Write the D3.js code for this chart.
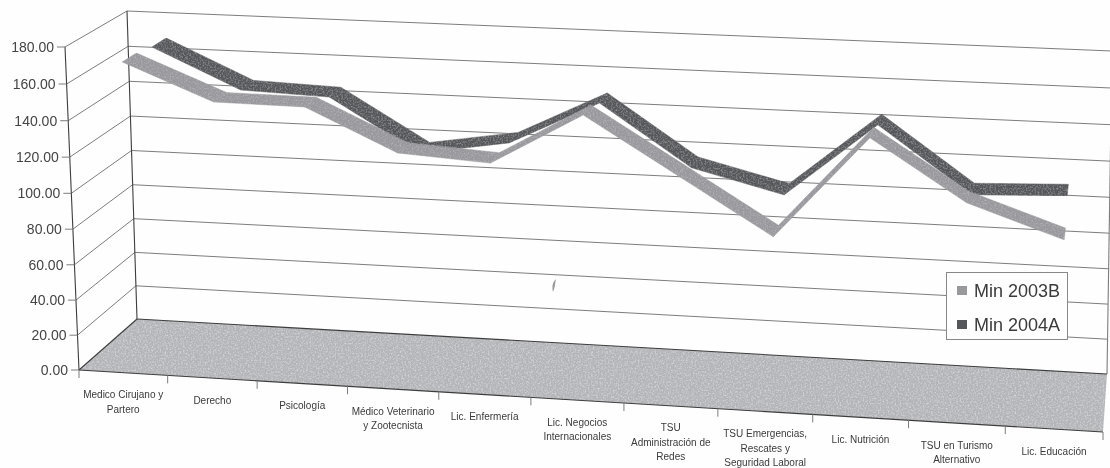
<!DOCTYPE html>
<html><head><meta charset="utf-8">
<script src="https://cdn.jsdelivr.net/npm/d3@7"></script>
<style>html,body{margin:0;padding:0;background:#fff}svg{display:block}text{font-family:"Liberation Sans",Arial,sans-serif}</style>
</head><body><div id="c"></div>
<script>
const categories = [
  ["Medico Cirujano y","Partero"],["Derecho"],["Psicología"],["Médico Veterinario","y Zootecnista"],
  ["Lic. Enfermería"],["Lic. Negocios","Internacionales"],["TSU","Administración de","Redes"],
  ["TSU Emergencias,","Rescates y","Seguridad Laboral"],["Lic. Nutrición"],["TSU en Turismo","Alternativo"],["Lic. Educación"]
];
const min2003B = [169.2,149.6,149.2,126.5,123.4,151.8,121.5,91,146.7,114.6,97.4];
const min2004A = [167.2,145.3,143.6,114.6,122.6,147,113.5,101,141.9,106.1,108];
const valueTicks = [0,20,40,60,80,100,120,140,160,180];

const W=1110,H=468;
// Corners of the 3D box, as the picture shows them: [category end][value end][depth end]
const box={
  x:{l:{b:{f:79,k:137},t:{f:65,k:127}},r:{b:{f:1103,k:1107},t:{f:1110,k:1112}}},
  y:{l:{b:{f:370,k:319},t:{f:47,k:11}},r:{b:{f:432,k:374},t:{f:93,k:51}}}
};
const warp=(t,r)=>t/(t+r*(1-t));
const uScale=d3.scaleLinear().domain([0,1]).range([0,1]);
const vScale=d3.scaleLinear().domain([0,180]).range([0,1]);
const nodeScale=d3.scalePoint().domain(d3.range(categories.length)).range([0.0455,0.96]);
function project(t,value,w){
  const u=warp(uScale(t),1.055), v=warp(vScale(value),1.035);
  const tri=b=>{
    const side=s=>{
      const bot=d3.interpolateNumber(s.b.f,s.b.k)(w), top=d3.interpolateNumber(s.t.f,s.t.k)(w);
      return bot+(top-bot)*v;
    };
    return side(b.l)+(side(b.r)-side(b.l))*u;
  };
  return [tri(box.x),tri(box.y)];
}
const line=d3.line();
const svg=d3.select("#c").append("svg").attr("width",W).attr("height",H).attr("viewBox",[0,0,W,H]);
const defs=svg.append("defs");
function makeGrain(id,slope,offset){
  const grain=defs.append("filter").attr("id",id).attr("x",0).attr("y",0).attr("width",1).attr("height",1);
  grain.append("feTurbulence").attr("type","fractalNoise").attr("baseFrequency",0.6).attr("numOctaves",2).attr("seed",4).attr("result","n");
  grain.append("feColorMatrix").attr("in","n").attr("type","matrix").attr("values",`0 0 0 0 1  0 0 0 0 1  0 0 0 0 1  ${slope} 0 0 0 ${offset}`).attr("result","s");
  grain.append("feComposite").attr("in","s").attr("in2","SourceAlpha").attr("operator","in").attr("result","c");
  const gm=grain.append("feMerge");gm.append("feMergeNode").attr("in","SourceGraphic");gm.append("feMergeNode").attr("in","c");
}
makeGrain("grain",0.9,-0.38);
makeGrain("grainSoft",0.5,-0.22);
defs.append("filter").attr("id","scan").attr("x",0).attr("y",0).attr("width",1).attr("height",1)
  .append("feGaussianBlur").attr("stdDeviation",0.65);

const root=svg.append("g").attr("filter","url(#scan)");
root.append("rect").attr("width",W).attr("height",H).attr("fill","#fefefe");
const gridCol="#7d7d7d", axisCol="#3d3d3d";

// floor
root.append("path").attr("d",line([project(0,0,0),project(1,0,0),project(1,0,1),project(0,0,1)])+"Z")
  .attr("fill","#b3b4b8").attr("filter","url(#grain)");
// gridlines on back wall + left wall
const grid=root.append("g").attr("fill","none").attr("stroke",gridCol).attr("stroke-width",1);
valueTicks.filter(d=>d>0).forEach(v=>{
  grid.append("path").attr("d",line([project(0,v,1),project(1,v,1)]));
  grid.append("path").attr("d",line([project(0,v,0),project(0,v,1)]));
});
// walls' edges and axis
const edges=root.append("g").attr("fill","none").attr("stroke",axisCol).attr("stroke-width",1.1);
edges.append("path").attr("d",line([project(0,0,0),project(0,180,0)]));
edges.append("path").attr("d",line([project(0,0,1),project(0,180,1)]));
edges.append("path").attr("d",line([project(1,0,1),project(1,180,1)])).attr("stroke",gridCol);
edges.append("path").attr("d",line([project(0,0,1),project(1,0,1)]));
edges.append("path").attr("d",line([project(0,0,0),project(1,0,0)]));
edges.append("path").attr("d",line([project(0,0,0),project(0,0,1)]));

// category ticks
const catTicks=d3.range(categories.length+1);
root.append("g").selectAll("path").data(catTicks).join("path")
  .attr("d",i=>{const p=project(i/categories.length,0,0);return line([p,[p[0],p[1]+8]]);})
  .attr("stroke",gridCol).attr("fill","none");

// value ticks + labels
const fmt=d3.format(".2f");
const vt=root.append("g").selectAll("g").data(valueTicks).join("g")
  .attr("transform",v=>`translate(${project(0,v,0)})`);
vt.append("line").attr("x1",-8).attr("x2",0).attr("stroke",gridCol);
vt.append("text").attr("x",-11).attr("dy","0.36em").attr("text-anchor","end")
  .attr("font-size",14).attr("fill","#444").text(fmt);

// ribbons
const ribbonDepth=0.24;
function ribbon(values,w0,fill){
  const g=root.append("g").attr("fill",fill).attr("stroke",fill).attr("stroke-width",0.5).attr("filter","url(#grainSoft)");
  g.selectAll("path").data(d3.range(values.length-1)).join("path").attr("d",i=>line([
    project(nodeScale(i),values[i],w0),project(nodeScale(i+1),values[i+1],w0),
    project(nodeScale(i+1),values[i+1],w0+ribbonDepth),project(nodeScale(i),values[i],w0+ribbonDepth)
  ])+"Z");
}
ribbon(min2004A,0.69,"#55565a");
ribbon(min2003B,0.19,"#98989d");

// category labels
const lab=root.append("g").attr("text-anchor","middle").attr("font-size",10).attr("fill","#3a3a3a");
categories.forEach((lines,i)=>{
  const p=project((i+0.5)/categories.length,0,0);
  lines.forEach((s,j)=>lab.append("text").attr("x",p[0]).attr("y",p[1]+22+14.5*j).attr("dy","0.35em").text(s));
});

// scan speck
root.append("path").attr("d","M556 279 C552 283 552 287 553 292 C555 288 555 283 556 279Z").attr("fill","#9a9a9a");

// legend
const legendItems=[["Min 2003B","#98989d"],["Min 2004A","#55565a"]];
const lg=root.append("g").attr("transform","translate(946,272)");
lg.append("rect").attr("x",0.5).attr("y",0.5).attr("width",121).attr("height",67).attr("fill","#fefefe").attr("stroke","#888");
const li=lg.selectAll("g").data(legendItems).join("g").attr("transform",(d,i)=>`translate(0,${i*34})`);
li.append("rect").attr("x",11).attr("y",14).attr("width",10).attr("height",9).attr("fill",d=>d[1]);
li.append("text").attr("x",28).attr("y",25).attr("font-size",18).attr("fill","#3a3a3a").text(d=>d[0]);
</script></body></html>
